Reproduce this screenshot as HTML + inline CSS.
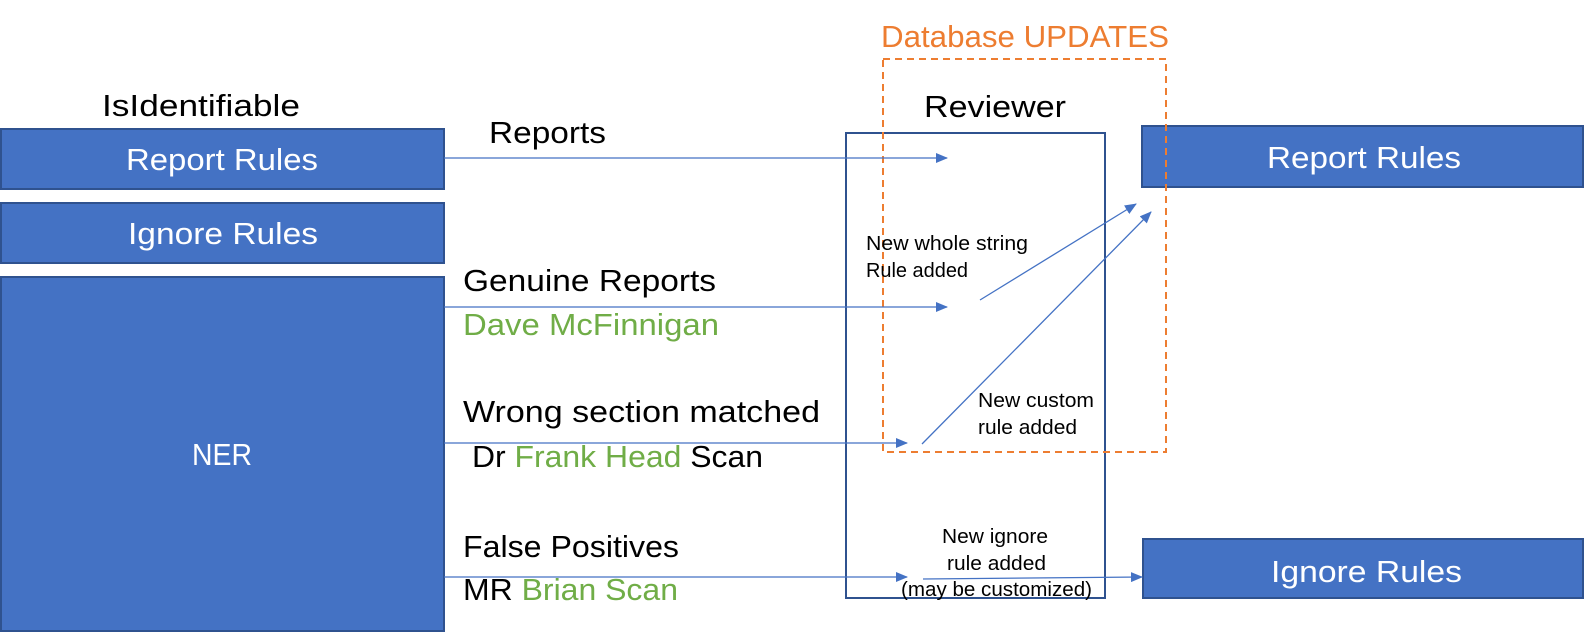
<!DOCTYPE html>
<html><head><meta charset="utf-8"><style>
html,body{margin:0;padding:0;background:#fff;width:1587px;height:635px;overflow:hidden}
svg{display:block}
text{font-family:"Liberation Sans",sans-serif}
</style></head><body>
<svg width="1587" height="635" viewBox="0 0 1587 635" xmlns="http://www.w3.org/2000/svg">
<defs>
<marker id="a" markerWidth="12" markerHeight="10" refX="11" refY="5" orient="auto" markerUnits="userSpaceOnUse">
<path d="M0,0 L12,5 L0,10 Z" fill="#4472C4"/></marker>
</defs>
<rect x="1" y="129" width="443" height="60" fill="#4472C4" stroke="#2F528F" stroke-width="2"/>
<rect x="1" y="203" width="443" height="60" fill="#4472C4" stroke="#2F528F" stroke-width="2"/>
<rect x="1" y="277" width="443" height="354" fill="#4472C4" stroke="#2F528F" stroke-width="2"/>
<text x="102" y="116" font-size="31" textLength="198" lengthAdjust="spacingAndGlyphs">IsIdentifiable</text>
<text x="126" y="170" font-size="31" fill="#fff" textLength="192" lengthAdjust="spacingAndGlyphs">Report Rules</text>
<text x="128" y="244" font-size="31" fill="#fff" textLength="190" lengthAdjust="spacingAndGlyphs">Ignore Rules</text>
<text x="192" y="465" font-size="31" fill="#fff" textLength="60" lengthAdjust="spacingAndGlyphs">NER</text>
<rect x="1142" y="126" width="441" height="61" fill="#4472C4" stroke="#2F528F" stroke-width="2"/>
<rect x="1143" y="539" width="440" height="59" fill="#4472C4" stroke="#2F528F" stroke-width="2"/>
<text x="1267" y="168" font-size="31" fill="#fff" textLength="194" lengthAdjust="spacingAndGlyphs">Report Rules</text>
<text x="1271" y="582" font-size="31" fill="#fff" textLength="191" lengthAdjust="spacingAndGlyphs">Ignore Rules</text>
<rect x="846" y="133" width="259" height="465" fill="none" stroke="#2F528F" stroke-width="2"/>
<text x="924" y="117" font-size="31" textLength="142" lengthAdjust="spacingAndGlyphs">Reviewer</text>
<rect x="883" y="59" width="283" height="393" fill="none" stroke="#ED7D31" stroke-width="2" stroke-dasharray="7,5"/>
<text x="881" y="47" font-size="31" fill="#ED7D31" textLength="288" lengthAdjust="spacingAndGlyphs">Database UPDATES</text>
<g stroke="#4472C4" stroke-width="1.3" fill="none">
<line x1="444" y1="158" x2="947" y2="158" marker-end="url(#a)"/>
<line x1="444" y1="307" x2="947" y2="307" marker-end="url(#a)"/>
<line x1="444" y1="443" x2="907" y2="443" marker-end="url(#a)"/>
<line x1="444" y1="577" x2="907" y2="577" marker-end="url(#a)"/>
<line x1="923" y1="579" x2="1142" y2="577" marker-end="url(#a)"/>
<line x1="980" y1="300" x2="1136" y2="204" marker-end="url(#a)"/>
<line x1="922" y1="444" x2="1151" y2="212" marker-end="url(#a)"/>
</g>
<g font-size="31">
<text x="489" y="143" textLength="117" lengthAdjust="spacingAndGlyphs">Reports</text>
<text x="463" y="291" textLength="253" lengthAdjust="spacingAndGlyphs">Genuine Reports</text>
<text x="463" y="335" fill="#70AD47" textLength="256" lengthAdjust="spacingAndGlyphs">Dave McFinnigan</text>
<text x="463" y="422" textLength="357" lengthAdjust="spacingAndGlyphs">Wrong section matched</text>
<text x="472" y="467" textLength="291" lengthAdjust="spacingAndGlyphs">Dr <tspan fill="#70AD47">Frank Head</tspan> Scan</text>
<text x="463" y="557" textLength="216" lengthAdjust="spacingAndGlyphs">False Positives</text>
<text x="463" y="600" textLength="215" lengthAdjust="spacingAndGlyphs">MR <tspan fill="#70AD47">Brian Scan</tspan></text>
</g>
<g font-size="20">
<text x="866" y="250" textLength="162" lengthAdjust="spacingAndGlyphs">New whole string</text>
<text x="866" y="277" textLength="102" lengthAdjust="spacingAndGlyphs">Rule added</text>
<text x="978" y="407" textLength="116" lengthAdjust="spacingAndGlyphs">New custom</text>
<text x="978" y="434" textLength="99" lengthAdjust="spacingAndGlyphs">rule added</text>
<text x="942" y="543" textLength="106" lengthAdjust="spacingAndGlyphs">New ignore</text>
<text x="947" y="570" textLength="99" lengthAdjust="spacingAndGlyphs">rule added</text>
<text x="901" y="596" textLength="191" lengthAdjust="spacingAndGlyphs">(may be customized)</text>
</g>
</svg>
</body></html>
